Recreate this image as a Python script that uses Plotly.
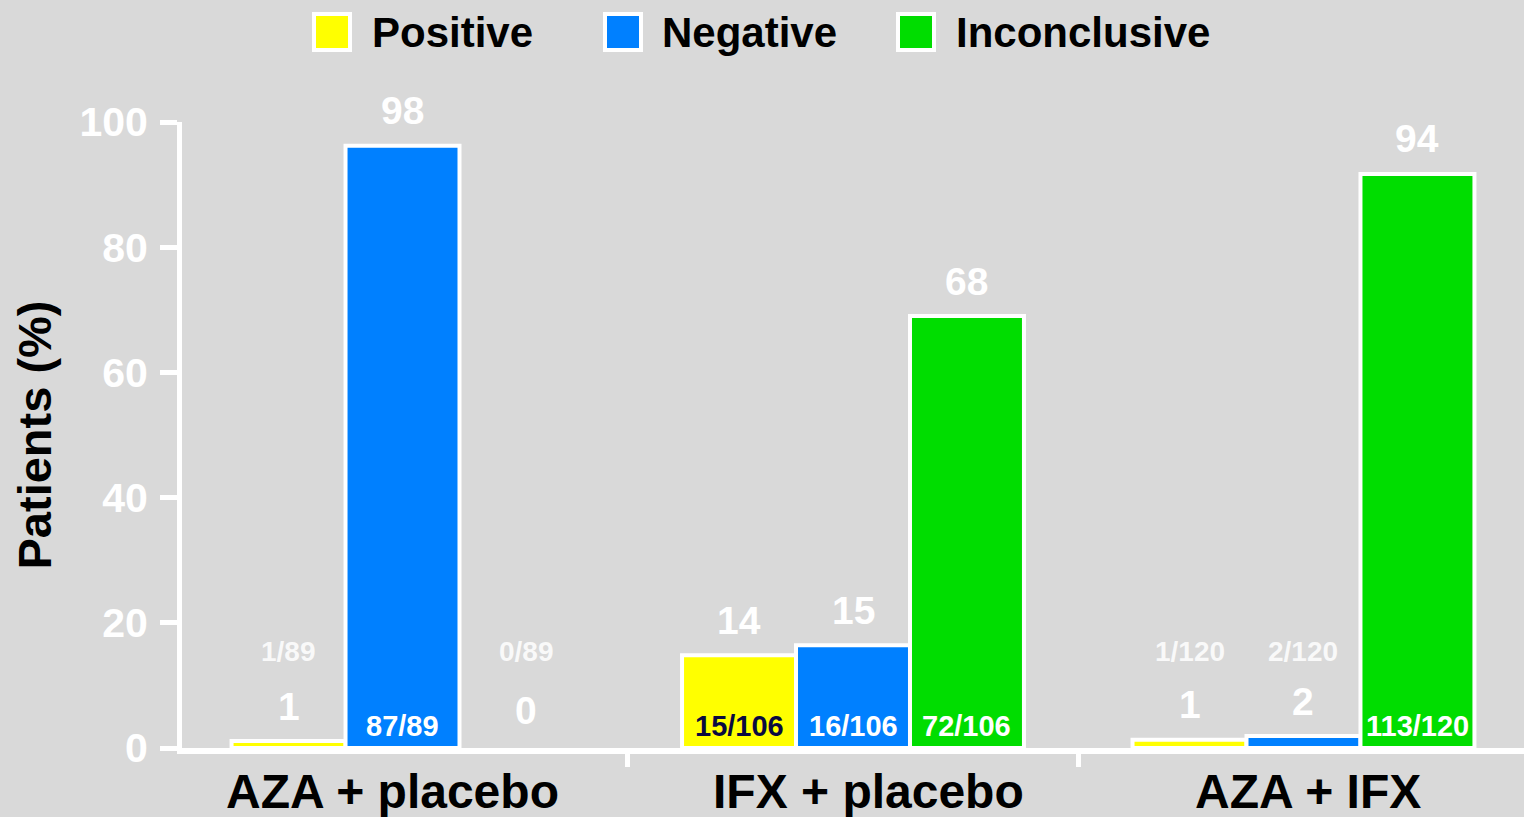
import plotly.graph_objects as go

# ---- data ----
categories = ["AZA + placebo", "IFX + placebo", "AZA + IFX"]
series_names = ["Positive", "Negative", "Inconclusive"]
positive_values = [1.1, 14.8, 1.3]
negative_values = [96.2, 16.4, 1.9]
inconclusive_values = [0.0, 69.0, 91.7]
positive_pct_labels = ["1", "14", "1"]
negative_pct_labels = ["98", "15", "2"]
inconclusive_pct_labels = ["0", "68", "94"]
positive_fractions = ["1/89", "15/106", "1/120"]
negative_fractions = ["87/89", "16/106", "2/120"]
inconclusive_fractions = ["0/89", "72/106", "113/120"]
y_tick_values = [0, 20, 40, 60, 80, 100]

# ---- style ----
BG = "#d9d9d9"
COLORS = ["#ffff00", "#0080ff", "#00dd00"]
INSIDE_TEXT = ["#0a0a40", "#ffffff", "#ffffff"]
FONT = "Liberation Sans, Arial, sans-serif"
W, H = 1524, 817
L, R, T, B = 182, 0, 122, 69
BARGAP = 0.241
X0, X1 = -0.4895, 2.4895

values = [positive_values, negative_values, inconclusive_values]
pct_labels = [positive_pct_labels, negative_pct_labels, inconclusive_pct_labels]
fractions = [positive_fractions, negative_fractions, inconclusive_fractions]
xs = list(range(len(categories)))

fig = go.Figure()
for i, name in enumerate(series_names):
    fig.add_trace(go.Bar(
        x=xs, y=values[i], name=name, showlegend=False,
        marker=dict(color=COLORS[i],
                    line=dict(color="white", width=[4 if v > 0 else 0 for v in values[i]])),
        hoverinfo="skip",
    ))

annotations = []
bar_w = (1 - BARGAP) / len(series_names)
for i in range(len(series_names)):
    off = (i - 1) * bar_w
    for j, c in enumerate(categories):
        v = values[i][j]
        xc = j + off
        # labels of empty bars sit a little to the right in the original
        xs_shift = 10 if v == 0 else 0
        annotations.append(dict(
            x=xc, y=v, xref="x", yref="y", text=pct_labels[i][j], showarrow=False,
            yanchor="middle", yshift=35 if v > 0 else 38, xshift=xs_shift,
            font=dict(family=FONT, size=39, color="white", weight="bold")))
        if v >= 10:
            annotations.append(dict(
                x=xc, y=0, xref="x", yref="y", text=fractions[i][j], showarrow=False,
                yanchor="middle", yshift=22,
                font=dict(family=FONT, size=29, color=INSIDE_TEXT[i], weight="bold")))
        else:
            annotations.append(dict(
                x=xc, y=0, xref="x", yref="y", text=fractions[i][j], showarrow=False,
                yanchor="middle", yshift=97, xshift=xs_shift,
                font=dict(family=FONT, size=28, color="rgba(255,255,255,0.85)", weight="bold")))

# category labels
cat_xshift = [-10, 15, 5]
for j, c in enumerate(categories):
    annotations.append(dict(
        x=j, y=0, xref="x", yref="y", text=c, showarrow=False,
        yanchor="top", yshift=-15, xshift=cat_xshift[j],
        font=dict(family=FONT, size=48, color="black", weight="bold")))

# legend drawn manually
PW = W - L - R
PH = H - T - B

def px_x(px):
    return (px - L) / PW

def px_y(py):
    return (H - B - py) / PH

shapes = []
legend_sq_left = [312, 603, 896]
legend_text_left = [370, 660, 954]
for i, name in enumerate(series_names):
    x0 = legend_sq_left[i]
    shapes.append(dict(
        type="rect", xref="paper", yref="paper",
        x0=px_x(x0 + 2), x1=px_x(x0 + 38), y0=px_y(50), y1=px_y(14),
        fillcolor=COLORS[i], line=dict(color="white", width=4)))
    annotations.append(dict(
        x=px_x(legend_text_left[i]), y=px_y(32), xref="paper", yref="paper",
        text=name, showarrow=False, xanchor="left", yanchor="middle",
        font=dict(family=FONT, size=42, color="black", weight="bold")))

# y-axis line extension below zero
shapes.append(dict(
    type="line", xref="paper", yref="y", xsizemode="pixel", ysizemode="pixel",
    xanchor=0, yanchor=0, x0=-2.5, x1=-2.5, y0=0, y1=-17,
    line=dict(color="white", width=5)))

fig.update_layout(
    width=W, height=H,
    margin=dict(l=L, r=R, t=T, b=B, pad=0),
    paper_bgcolor=BG, plot_bgcolor=BG,
    barmode="group", bargap=BARGAP, bargroupgap=0,
    annotations=annotations, shapes=shapes,
    showlegend=False,
    xaxis=dict(
        range=[X0, X1], showgrid=False, zeroline=False,
        showline=True, linecolor="white", linewidth=6,
        tickmode="array", tickvals=[0.5, 1.5], ticktext=["", ""],
        ticks="outside", ticklen=13, tickwidth=5, tickcolor="white",
        fixedrange=True,
    ),
    yaxis=dict(
        range=[0, 100], showgrid=False, zeroline=False,
        showline=True, linecolor="white", linewidth=5,
        tickmode="array", tickvals=y_tick_values,
        ticks="outside", ticklen=17, tickwidth=5, tickcolor="white",
        ticklabelstandoff=4,
        tickfont=dict(family=FONT, size=41, color="white", weight="bold"),
        title=dict(text="Patients (%)", standoff=14,
                   font=dict(family=FONT, size=47, color="black", weight="bold")),
        fixedrange=True,
    ),
)

fig.write_html(
    "out.html",
    config={"displayModeBar": False},
    post_script="document.body.style.margin='0';document.body.style.overflow='hidden';",
)
